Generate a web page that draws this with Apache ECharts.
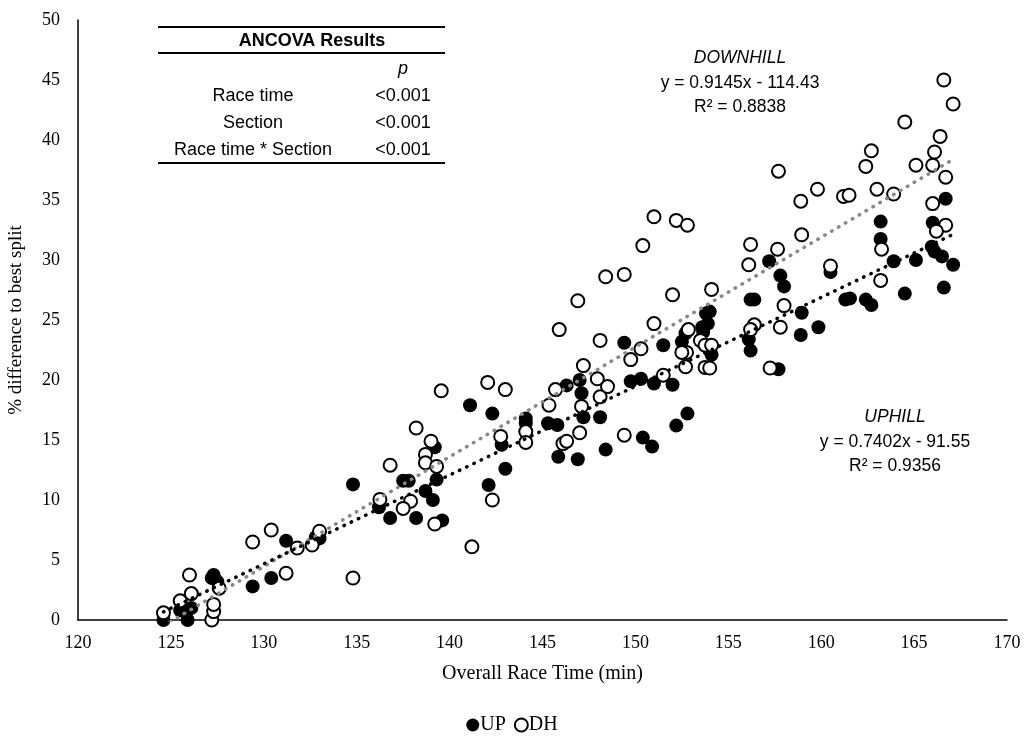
<!DOCTYPE html>
<html>
<head>
<meta charset="utf-8">
<script src="https://cdn.jsdelivr.net/npm/echarts@6/dist/echarts.min.js"></script>
<style>
html,body{margin:0;padding:0;background:#fff;}
#chart{width:1024px;height:740px;}
</style>
</head>
<body>
<div id="chart"></div>
<script>
// ---- Data ----
const upPoints = [
  [124.6,0],[125.9,0],[125.5,0.8],[126.1,1.0],[127.3,3.75],[127.5,3.2],[127.2,3.5],
  [129.4,2.8],[130.4,3.5],[131.2,6.6],[132.8,6.9],[133.0,6.8],[134.8,11.3],[136.2,9.4],
  [136.8,8.5],[137.5,11.6],[137.8,11.6],[138.7,10.75],[139.1,10.0],[139.2,14.4],[139.3,11.7],
  [138.2,8.5],[139.6,8.3],[141.1,17.9],[142.3,17.2],[142.8,14.6],[143.0,12.6],[142.1,11.25],
  [144.1,16.8],[144.1,16.4],[145.3,16.4],[145.8,16.25],[145.85,13.6],[146.9,13.4],[146.3,19.55],
  [147.0,20.0],[147.1,18.9],[147.2,16.9],[148.1,16.9],[148.4,14.2],[149.4,23.1],[151.5,22.9],
  [149.75,19.9],[150.3,20.1],[151.0,19.7],[152.0,19.6],[150.4,15.2],[150.9,14.45],[152.2,16.2],
  [152.8,17.2],[152.7,23.9],[152.5,23.2],[153.65,24.0],[153.6,24.4],[153.9,24.7],[153.8,25.55],
  [154.0,25.7],[154.1,22.1],[156.2,26.7],[156.4,26.7],[156.1,23.4],[156.2,22.45],[157.2,29.9],
  [157.8,28.7],[158.0,27.8],[158.95,25.6],[159.85,24.4],[158.9,23.75],[157.7,20.9],[160.5,29.0],
  [161.3,26.7],[161.55,26.8],[162.4,26.7],[162.7,26.25],[163.2,33.2],[163.2,31.75],[163.9,29.9],
  [165.1,30.0],[164.5,27.2],[166.0,33.1],[166.7,35.1],[165.95,31.1],[166.1,30.7],[166.5,30.3],
  [167.1,29.6],[166.6,27.7]
];
const dhPoints = [
  [124.6,0.6],[125.5,1.6],[126.1,2.2],[126.0,3.75],[127.2,0],[127.3,0.7],[127.3,1.3],[127.6,2.65],
  [129.4,6.5],[130.4,7.5],[131.2,3.9],[131.8,6.0],[132.6,6.25],[133.0,7.4],[134.8,3.5],[136.25,10.05],
  [136.8,12.9],[138.2,16.0],[139.55,19.1],[139.0,14.9],[138.7,13.8],[138.7,13.1],[139.3,12.8],
  [137.9,9.9],[137.5,9.3],[139.2,8.0],[142.05,19.8],[143.0,19.2],[142.75,15.3],[142.3,10.0],
  [141.2,6.1],[148.4,28.6],[149.4,28.8],[146.9,26.6],[145.9,24.2],[148.1,23.3],[152.0,27.1],
  [154.1,27.55],[156.1,29.6],[151.0,24.7],[150.3,22.6],[149.75,21.7],[147.2,21.2],[147.95,20.1],
  [148.5,19.45],[148.1,18.6],[145.7,19.2],[145.35,17.9],[147.1,17.8],[144.1,15.7],[144.1,14.8],
  [147.0,15.6],[146.1,14.7],[146.3,14.9],[149.4,15.4],[151.5,20.4],[152.85,24.2],[152.75,22.3],
  [152.5,22.3],[152.7,21.1],[153.5,23.3],[153.75,22.9],[154.1,22.9],[153.75,21.05],[154.0,21.0],
  [156.4,24.6],[156.2,24.2],[150.4,31.2],[151.0,33.6],[152.2,33.3],[152.8,32.9],[156.2,31.3],
  [157.65,30.9],[157.7,37.4],[158.9,34.9],[159.8,35.9],[158.95,32.1],[160.5,29.5],[161.2,35.3],
  [161.5,35.4],[162.4,37.8],[162.7,39.1],[163.0,35.9],[163.9,35.5],[164.5,41.5],[165.1,37.9],
  [166.0,37.9],[166.1,39.0],[166.4,40.3],[166.6,45.0],[167.1,43.0],[166.7,36.9],[166.0,34.7],
  [166.7,32.9],[166.2,32.4],[163.25,30.9],[163.2,28.3],[158.0,26.2],[157.8,24.4],[157.25,21.0]
];
// Trend line equations (slope, intercept) as printed in the chart
const upTrend = [0.7402, -91.55];
const dhTrend = [0.9145, -114.43];
const seriesNames = ['UP', 'DH'];
const tableRows = ['Race time', 'Section', 'Race time * Section'];
const tableP = ['<0.001', '<0.001', '<0.001'];

function trendLine(points, coef) {
  const xs = points.map(p => p[0]);
  const x0 = Math.min(...xs), x1 = Math.max(...xs);
  return [[x0, coef[0]*x0 + coef[1]], [x1, coef[0]*x1 + coef[1]]];
}

const serif = '"Liberation Serif", "Times New Roman", serif';
const sans = '"Liberation Sans", Arial, sans-serif';

const chart = echarts.init(document.getElementById('chart'));

function label(x, y, text, font) {
  return {type:'text', z:100, x:x, y:y, style:{text:text, font:font, fill:'#000', align:'center', verticalAlign:'middle'}};
}

const annFont = '17.5px ' + sans;
const tabFont = '18px ' + sans;
const graphics = [
  {type:'line', shape:{x1:158,y1:27,x2:445,y2:27}, style:{stroke:'#000', lineWidth:2}, z:100},
  {type:'line', shape:{x1:158,y1:53,x2:445,y2:53}, style:{stroke:'#000', lineWidth:2}, z:100},
  {type:'line', shape:{x1:158,y1:163,x2:445,y2:163}, style:{stroke:'#000', lineWidth:2}, z:100},
  label(312, 41, 'ANCOVA Results', 'bold 18px ' + sans),
  label(403, 69, 'p', 'italic ' + tabFont),
  label(740, 58, 'DOWNHILL', 'italic ' + annFont),
  label(740, 83, 'y = 0.9145x - 114.43', annFont),
  label(740, 107, 'R² = 0.8838', annFont),
  label(895, 417, 'UPHILL', 'italic ' + annFont),
  label(895, 442, 'y = 0.7402x - 91.55', annFont),
  label(895, 466, 'R² = 0.9356', annFont)
];
const rowYs = [96, 123, 150];
tableRows.forEach((r, i) => {
  graphics.push(label(253, rowYs[i], r, tabFont));
  graphics.push(label(403, rowYs[i], tableP[i], tabFont));
});

chart.setOption({
  animation: false,
  backgroundColor: '#fff',
  grid: {left: 78, right: 17, top: 20, bottom: 120, containLabel: false, outerBoundsMode: 'none'},
  xAxis: {
    type: 'value', min: 120, max: 170, interval: 5,
    name: 'Overall Race Time (min)', nameLocation: 'middle', nameGap: 44,
    nameTextStyle: {fontFamily: serif, fontSize: 20, color: '#000'},
    axisLine: {show: true, lineStyle: {color: '#000', width: 1.5}},
    axisTick: {show: false},
    splitLine: {show: false},
    axisLabel: {fontFamily: serif, fontSize: 18, color: '#000', margin: 14}
  },
  yAxis: {
    type: 'value', min: 0, max: 50, interval: 5,
    name: '% difference to best split', nameLocation: 'middle', nameGap: 52,
    nameTextStyle: {fontFamily: serif, fontSize: 19, color: '#000'},
    axisLine: {show: true, lineStyle: {color: '#000', width: 1.5}},
    axisTick: {show: false},
    splitLine: {show: false},
    axisLabel: {fontFamily: serif, fontSize: 18, color: '#000', margin: 18}
  },
  legend: {
    bottom: 0, left: 'center', itemWidth: 13, itemHeight: 13, itemGap: 8,
    data: [{name: seriesNames[0], icon: 'circle'}, {name: seriesNames[1], icon: 'circle'}],
    textStyle: {fontFamily: serif, fontSize: 20, color: '#000', padding: [0,0,0,-4]}
  },
  graphic: graphics,
  series: [
    {
      name: seriesNames[0], type: 'scatter', data: upPoints, symbol: 'circle', symbolSize: 14, z: 2,
      itemStyle: {color: '#000', borderColor: '#000', borderWidth: 0, opacity: 1}
    },
    {
      name: seriesNames[1], type: 'scatter', data: dhPoints, symbol: 'circle', symbolSize: 13, z: 3,
      itemStyle: {color: '#fff', borderColor: '#000', borderWidth: 2, opacity: 1}
    },
    {
      name: 'DH trend', type: 'line', data: trendLine(dhPoints, dhTrend), symbol: 'none', z: 5,
      lineStyle: {color: '#888', width: 3.5, type: [0.5, 7.5], cap: 'round'}, silent: true
    },
    {
      name: 'UP trend', type: 'line', data: trendLine(upPoints, upTrend), symbol: 'none', z: 6,
      lineStyle: {color: '#000', width: 3.5, type: [0.5, 7.5], cap: 'round'}, silent: true
    }
  ]
});
</script>
</body>
</html>
